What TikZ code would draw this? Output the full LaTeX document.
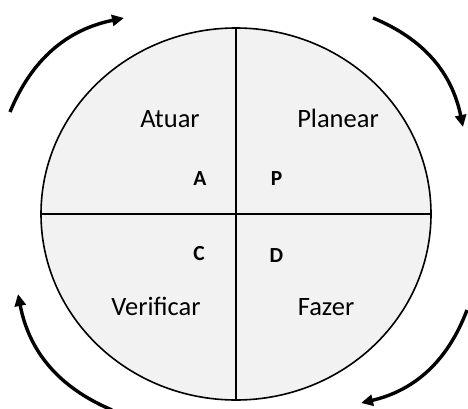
\documentclass[tikz,border=0pt]{standalone}
\usepackage{fontspec}
\setmainfont{Carlito}
\usetikzlibrary{arrows.meta,shapes.geometric}
\definecolor{quadfill}{HTML}{F2F2F2}
\tikzset{
  cyclearrow/.style={line width=3.4pt, -{Triangle[length=12pt,width=11pt]}, bend left=28},
  quadlabel/.style={anchor=base, inner sep=0pt, font=\fontsize{26.5}{31}\selectfont},
  letterlabel/.style={anchor=base, inner sep=0pt, font=\fontsize{21.5}{25}\selectfont\bfseries},
}
\begin{document}
\begin{tikzpicture}[x=1pt,y=1pt]
\useasboundingbox (0,0) rectangle (468,408);
\node[draw, line width=1.6pt, fill=quadfill, ellipse, minimum width=390pt, minimum height=372pt, inner sep=0pt] (circ) at (236,194) {};
\coordinate (top) at (236,380);
\coordinate (bot) at (236,8);
\coordinate (lft) at (41,194);
\coordinate (rgt) at (431,194);
\draw[line width=1.6pt] (top) -- (bot);
\draw[line width=1.6pt] (lft) -- (rgt);
\node[quadlabel] (atuar) at (170,281) {Atuar};
\node[quadlabel] (planear) at (338,281) {Planear};
\node[quadlabel] (verificar) at (156,93) {Verificar};
\node[quadlabel] (fazer) at (326,93) {Fazer};
\node[letterlabel] (la) at (200,223) {A};
\node[letterlabel] (lp) at (276.5,223) {P};
\node[letterlabel] (lc) at (199,148) {C};
\node[letterlabel] (ld) at (276.5,146) {D};
\coordinate (tls) at (10,296);
\coordinate (tle) at (124,390);
\coordinate (trs) at (373,390);
\coordinate (tre) at (463,281);
\coordinate (brs) at (467,98);
\coordinate (bre) at (361,5);
\coordinate (bls) at (112,-2);
\coordinate (ble) at (18,114);
\draw[cyclearrow] (tls) to (tle);
\draw[cyclearrow] (trs) to (tre);
\draw[cyclearrow] (brs) to (bre);
\draw[cyclearrow] (bls) to (ble);
\end{tikzpicture}
\end{document}
